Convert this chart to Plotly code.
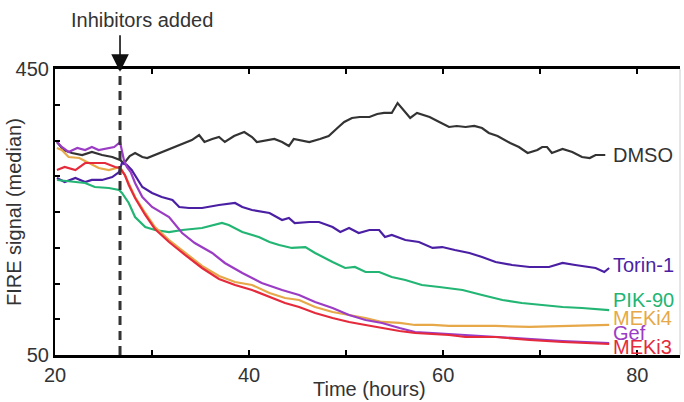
import plotly.graph_objects as go

# ---- data (time in hours, FIRE signal median) ----
t_dmso = [20.2, 20.9, 21.75, 22.8, 23.8, 24.85, 25.9, 26.7, 27.1, 27.7, 28.25, 29.0, 29.5, 30.5, 32.1, 33.3,
          34.1, 34.85, 35.4, 36.2, 36.9, 37.5, 38.45, 39.5, 40.3, 40.8, 41.5, 42.6, 43.4, 44.1, 44.6, 45.5,
          46.2, 47.3, 48.2, 49.1, 49.8, 50.6, 51.4, 52.4, 53.2, 53.9, 54.7, 55.3, 56.0, 56.6, 57.3, 58.6,
          59.6, 60.6, 61.4, 62.3, 63.2, 64.0, 64.7, 65.6, 66.9, 67.8, 68.7, 69.7, 70.2, 70.7, 71.2, 72.3,
          73.3, 74.3, 75.1, 75.7, 76.7]
v_dmso = [347.9, 336.7, 332.5, 329.7, 333.9, 329.7, 326.9, 322.7, 318.0, 328.3, 332.5, 326.9, 325.5, 331.1,
          339.5, 346.5, 350.6, 357.7, 347.9, 352.1, 354.9, 347.9, 356.3, 361.9, 354.9, 347.9, 349.3, 352.1,
          347.9, 342.3, 352.1, 349.3, 347.9, 352.1, 356.3, 367.5, 375.9, 381.5, 382.9, 382.9, 387.1, 388.5,
          388.5, 402.4, 391.3, 381.5, 388.5, 382.9, 375.9, 368.9, 370.3, 368.9, 370.3, 367.5, 360.5, 356.3,
          346.5, 340.9, 332.5, 336.7, 340.9, 340.9, 332.5, 338.1, 333.9, 326.9, 325.5, 329.7, 329.7]

t_torin = [20.2, 21.0, 22.1, 23.1, 23.8, 24.85, 25.9, 26.6, 26.9, 27.4, 27.9, 29.0, 30.0, 31.0, 32.1, 32.8,
           33.8, 35.15, 36.9, 38.55, 39.3, 40.3, 42.1, 43.4, 44.1, 44.7, 46.2, 47.2, 48.6, 49.4, 50.3, 51.3,
           52.4, 53.4, 54.0, 54.7, 56.1, 57.5, 58.9, 59.9, 61.2, 62.7, 64.0, 65.4, 67.1, 68.9, 70.9, 72.3,
           73.6, 75.7, 76.6, 77.1]
v_torin = [297.6, 292.0, 297.6, 292.0, 294.8, 294.8, 298.9, 305.9, 318.5, 315.7, 308.7, 285.0, 276.6, 271.0,
           266.8, 257.0, 255.6, 255.6, 259.8, 262.6, 257.0, 252.8, 248.6, 238.8, 241.6, 234.6, 236.0, 236.0,
           229.0, 222.0, 227.6, 220.6, 224.8, 224.8, 215.0, 217.8, 210.8, 208.0, 199.7, 201.0, 196.9, 192.7,
           187.1, 180.1, 175.9, 173.1, 173.1, 178.7, 175.9, 171.7, 166.1, 171.7]

t_pik = [20.2, 21.75, 23.1, 24.1, 25.55, 26.6, 26.9, 27.6, 28.25, 29.3, 30.3, 31.75, 33.1, 35.15, 37.2, 37.9,
         39.3, 41.0, 42.1, 43.1, 44.4, 45.8, 46.8, 48.6, 49.9, 50.9, 52.0, 53.4, 54.7, 56.1, 57.8, 59.6,
         60.6, 62.0, 64.0, 66.1, 68.1, 70.2, 72.3, 74.3, 76.4, 77.1]
v_pik = [294.8, 292.0, 290.6, 285.0, 283.6, 280.8, 276.6, 262.6, 243.0, 229.0, 224.8, 222.0, 224.8, 227.6,
         234.6, 231.8, 222.0, 215.0, 208.0, 203.8, 199.7, 201.0, 192.7, 180.1, 171.7, 173.1, 166.1, 166.1,
         159.1, 154.9, 147.9, 145.1, 143.7, 140.9, 133.9, 126.9, 122.7, 119.9, 117.1, 115.7, 112.9, 112.9]

t_meki4 = [20.2, 20.7, 21.4, 22.5, 23.5, 24.5, 25.55, 26.2, 26.7, 27.2, 27.6, 28.25, 29.3, 30.3, 31.75, 33.4,
           35.15, 36.9, 38.55, 40.3, 42.1, 43.7, 45.15, 46.8, 48.6, 50.3, 52.0, 53.7, 55.5, 57.1, 58.9, 60.6,
           64.0, 65.4, 68.9, 72.3, 77.1]
v_meki4 = [339.5, 336.7, 326.9, 325.5, 318.5, 311.5, 308.7, 311.5, 312.9, 301.7, 290.6, 271.0, 248.6, 229.0,
           210.8, 192.7, 174.5, 160.5, 152.1, 147.9, 136.7, 129.7, 126.9, 117.1, 110.1, 105.9, 101.7, 96.2,
           94.8, 92.0, 92.0, 90.6, 90.6, 90.6, 89.2, 90.6, 92.0]

t_gef = [20.2, 20.7, 21.4, 22.3, 23.1, 23.8, 24.5, 25.4, 26.1, 26.6, 26.7, 27.1, 27.4, 27.8, 28.25, 29.0,
         30.0, 31.75, 33.1, 34.4, 36.2, 37.5, 39.3, 41.3, 43.4, 45.15, 46.8, 48.6, 50.3, 52.0, 53.7, 55.5,
         57.1, 58.9, 60.6, 62.3, 65.4, 68.9, 72.3, 77.1]
v_gef = [347.9, 340.9, 333.9, 339.5, 336.7, 340.9, 336.7, 339.5, 340.9, 346.5, 347.9, 322.7, 312.9, 305.9,
         290.6, 271.0, 257.0, 243.0, 220.6, 206.6, 192.7, 178.7, 164.7, 150.7, 140.9, 133.9, 124.1, 115.7,
         105.9, 99.0, 94.8, 87.8, 82.2, 80.8, 79.4, 78.0, 75.2, 72.4, 69.6, 66.8]

t_meki3 = [20.2, 21.0, 22.1, 23.1, 24.1, 25.15, 26.2, 26.7, 27.2, 27.6, 28.25, 29.3, 30.3, 31.75, 33.4, 35.15,
           36.9, 38.55, 40.3, 42.1, 43.7, 45.15, 46.8, 48.6, 50.3, 52.0, 53.7, 55.5, 57.1, 58.9, 60.6, 62.3,
           65.4, 68.9, 72.3, 77.1]
v_meki3 = [308.7, 312.9, 308.7, 318.5, 318.5, 318.5, 312.9, 311.5, 301.7, 287.8, 269.6, 245.8, 226.2, 208.0,
           189.9, 171.7, 156.3, 147.9, 140.9, 131.1, 122.7, 117.1, 108.7, 101.7, 96.2, 92.0, 87.8, 83.6,
           80.8, 79.4, 78.0, 75.2, 75.2, 71.0, 68.2, 65.4]

names = ["DMSO", "Torin-1", "PIK-90", "MEKi4", "Gef", "MEKi3"]
colors = ["#333333", "#4a1fa3", "#22b573", "#e6a848", "#9b3cc4", "#e52a3c"]
series_t = [t_dmso, t_torin, t_pik, t_meki4, t_gef, t_meki3]
series_v = [v_dmso, v_torin, v_pik, v_meki4, v_gef, v_meki3]
label_y = [329.7, 175.9, 126.9, 101.7, 80.8, 61.2]

x_ticks = [20, 30, 40, 50, 60, 70, 80]
x_ticktext = ["20", "", "40", "", "60", "", "80"]
y_ticks = [50, 100, 150, 200, 250, 300, 350, 400, 450]
y_ticktext = ["50", "", "", "", "", "", "", "", "450"]
inhibitor_time = 26.7

FONT = "Liberation Sans, Arial, sans-serif"
FS = 20
fig = go.Figure()
for i in range(len(names)):
    fig.add_trace(go.Scatter(x=series_t[i], y=series_v[i], mode="lines",
                             line=dict(color=colors[i], width=2.2), name=names[i],
                             showlegend=False, hoverinfo="skip"))

for i, n in enumerate(names):
    fig.add_annotation(x=77.3, y=label_y[i], xref="x", yref="y", text=n, showarrow=False,
                       xanchor="left", yanchor="middle",
                       font=dict(family=FONT, size=FS, color=colors[i]))

# dashed inhibitor line
fig.add_shape(type="line", xref="x", yref="y", x0=inhibitor_time, x1=inhibitor_time, y0=50, y1=450,
              line=dict(color="#333333", width=3, dash="9px,6px"))
# faint right border
fig.add_shape(type="line", xref="paper", yref="paper", x0=1, x1=1, y0=0, y1=1,
              line=dict(color="#cccccc", width=1))

# arrow + text
fig.add_annotation(x=inhibitor_time, y=446, xref="x", yref="y", text="", showarrow=True,
                   ax=0, ay=-38, arrowhead=2, arrowsize=2.2, arrowwidth=1.6, arrowcolor="#111111")
fig.add_annotation(x=(142 - 55) / 625, y=1 + (69 - 20) / 286, xref="paper", yref="paper",
                   text="Inhibitors added", showarrow=False,
                   font=dict(family=FONT, size=FS, color="#333333"),
                   xanchor="center", yanchor="middle")

fig.add_annotation(xref="paper", yref="paper", x=0, y=0.5, xshift=-41, text="FIRE signal (median)",
                   textangle=-90, showarrow=False, xanchor="center", yanchor="middle",
                   font=dict(family=FONT, size=FS, color="#333333"))
fig.add_annotation(xref="paper", yref="paper", x=(369 - 55) / 625, y=0, yshift=-34, text="Time (hours)",
                   showarrow=False, xanchor="center", yanchor="middle",
                   font=dict(family=FONT, size=FS, color="#333333"))

fig.update_layout(
    width=684, height=402,
    margin=dict(l=55, r=4, t=69, b=47),
    paper_bgcolor="white", plot_bgcolor="white",
    font=dict(family=FONT, size=FS, color="#333333"),
    xaxis=dict(range=[20, 84.4], tickvals=x_ticks, ticktext=x_ticktext, ticks="inside", ticklen=5,
               tickwidth=1.5, tickcolor="black", showline=True, linecolor="black", linewidth=2.8,
               mirror="ticks", showgrid=False, zeroline=False,
               tickfont=dict(family=FONT, size=FS, color="#333333")),
    yaxis=dict(range=[50, 450], tickvals=y_ticks, ticktext=y_ticktext, ticks="inside", ticklen=5,
               tickwidth=1.5, tickcolor="black", showline=True, linecolor="black", linewidth=2.2,
               showgrid=False, zeroline=False,
               tickfont=dict(family=FONT, size=FS, color="#333333")),
)

fig.write_html("out.html")
